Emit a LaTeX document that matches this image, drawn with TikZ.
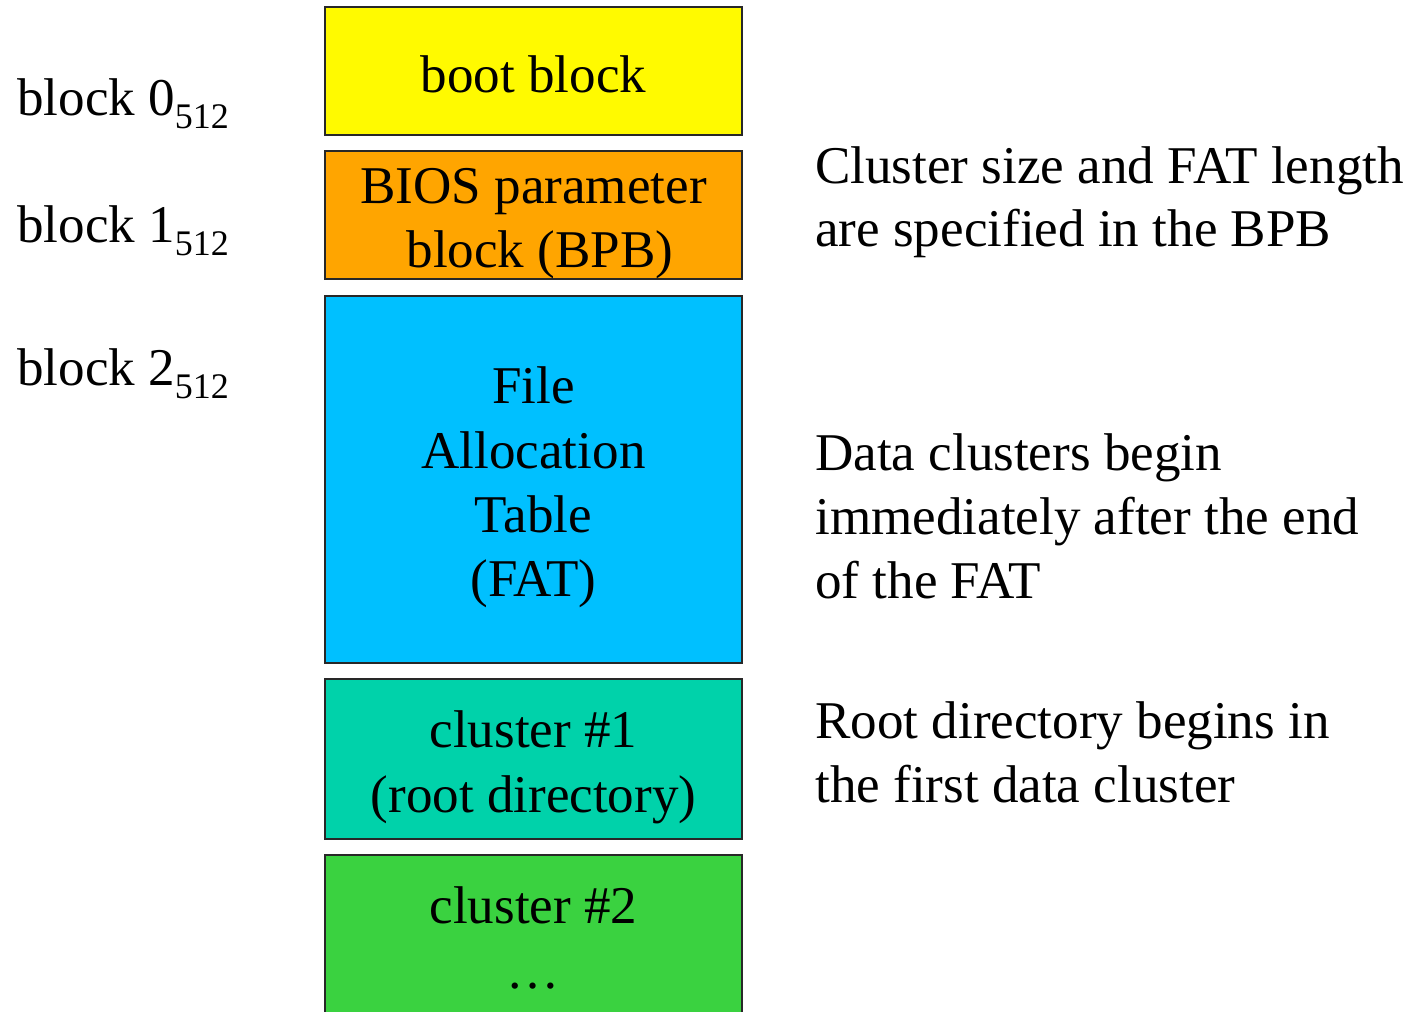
\documentclass[tikz,border=0pt]{standalone}
\usepackage{fontspec}
\setmainfont{Liberation Serif}
\definecolor{bootc}{RGB}{255,250,0}
\definecolor{bpbc}{RGB}{255,165,0}
\definecolor{fatc}{RGB}{0,192,255}
\definecolor{c1c}{RGB}{0,210,170}
\definecolor{c2c}{RGB}{58,210,64}
\definecolor{edgec}{RGB}{40,40,40}
\tikzset{
  seg/.style={draw=edgec, line width=1.5pt, rectangle, inner sep=0pt, minimum width=417*0.75pt},
  txt/.style={font=\fontsize{39.8pt}{48pt}\selectfont, inner sep=0pt, anchor=base},
  side/.style={font=\fontsize{39.8pt}{48pt}\selectfont, inner sep=0pt, anchor=base west},
}
\newcommand{\subn}{\raisebox{-9.75pt}{\fontsize{27pt}{30pt}\selectfont 512}}
\begin{document}
\begin{tikzpicture}[x=0.75pt, y=-0.75pt]
\useasboundingbox (0,0) rectangle (1410,1011);
\clip (0,0) rectangle (1410,1011);
% memory segments
\node[seg, fill=bootc, minimum height=128*0.75pt] (boot) at (533.5,70.5) {};
\node[seg, fill=bpbc, minimum height=128*0.75pt] (bpb) at (533.5,214.5) {};
\node[seg, fill=fatc, minimum height=367*0.75pt] (fat) at (533.5,479) {};
\node[seg, fill=c1c, minimum height=160*0.75pt] (c1) at (533.5,758.5) {};
\node[seg, fill=c2c, minimum height=200*0.75pt] (c2) at (533.5,955) {};
% segment texts
\node[txt] (tboot) at (533.5,92) {boot block};
\node[txt] (tbpb1) at (533.5,203) {BIOS parameter};
\node[txt] (tbpb2) at (540,267) {block (BPB)};
\node[txt] (tfat1) at (533.5,403) {File};
\node[txt] (tfat2) at (533.5,468) {Allocation};
\node[txt] (tfat3) at (533.5,532) {Table};
\node[txt] (tfat4) at (533.5,596) {(FAT)};
\node[txt] (tc11) at (533.5,747) {cluster \#1};
\node[txt] (tc12) at (533.5,812) {(root directory)};
\node[txt] (tc21) at (533.5,923) {cluster \#2};
\node[txt] (tc22) at (533.5,988) {\ldots};
% block labels
\node[side] (b0) at (17,115) {block 0\subn};
\node[side] (b1) at (17,242) {block 1\subn};
\node[side] (b2) at (17,385) {block 2\subn};
% notes
\node[side] (n11) at (815,183) {Cluster size and FAT length};
\node[side] (n12) at (815,246) {are specified in the BPB};
\node[side] (n21) at (815,470) {Data clusters begin};
\node[side] (n22) at (815,534) {immediately after the end};
\node[side] (n23) at (815,598) {of the FAT};
\node[side] (n31) at (815,738) {Root directory begins in};
\node[side] (n32) at (815,802) {the first data cluster};
\end{tikzpicture}
\end{document}
